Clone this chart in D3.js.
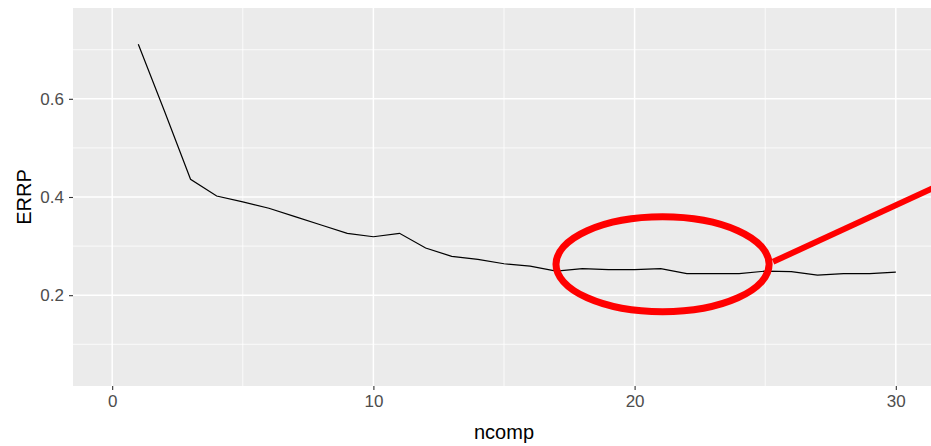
<!DOCTYPE html>
<html>
<head>
<meta charset="utf-8">
<script src="https://cdn.jsdelivr.net/npm/d3@7"></script>
<style>
	body { margin: 0; background: #fff; }
	text { font-family: 'Liberation Sans', Arial, sans-serif; }
</style>
</head>
<body>
<div id="chart"></div>
<script>
// ncomp vs ERRP
const ncomp = [1, 2, 3, 4, 5, 6, 7, 8, 9, 10, 11, 12, 13, 14, 15,
	16, 17, 18, 19, 20, 21, 22, 23, 24, 25, 26, 27, 28, 29, 30];
const errp = [0.711, 0.575, 0.436, 0.402, 0.390, 0.377, 0.360, 0.343, 0.326, 0.319,
	0.326, 0.296, 0.279, 0.273, 0.264, 0.259, 0.249, 0.254, 0.252, 0.252,
	0.254, 0.244, 0.244, 0.244, 0.249, 0.248, 0.241, 0.244, 0.244, 0.247];

const xTicks = [0, 10, 20, 30];
const xMinor = [5, 15, 25];
const yTicks = [0.2, 0.4, 0.6];
const yMinor = [0.1, 0.3, 0.5, 0.7];

// red highlight: ellipse centre / radii and pointer line, in data units
const ringCentre = [21.07, 0.263];
const ringRadii = [4.08, 0.0967];
const pointer = [[25.3, 0.268], [31.7, 0.425]];

const W = 931;
const H = 446;
const panel = {left: 73, top: 8, right: 935, bottom: 386};

const svg = d3
	.select('#chart')
	.append('svg')
	.attr('width', W)
	.attr('height', H);

// limits 0..30 and 0.05..0.75, plus ggplot's 5% expansion
const x = d3.scaleLinear().domain([-1.5, 31.5]).range([panel.left, panel.right]);
const y = d3.scaleLinear().domain([0.015, 0.785]).range([panel.bottom, panel.top]);

svg.append('rect')
	.attr('x', panel.left)
	.attr('y', panel.top)
	.attr('width', panel.right - panel.left)
	.attr('height', panel.bottom - panel.top)
	.attr('fill', '#ebebeb');

const grid = svg.append('g').attr('stroke', '#fff');

grid.selectAll('.ymin')
	.data(yMinor)
	.enter()
	.append('line')
	.attr('x1', panel.left)
	.attr('x2', panel.right)
	.attr('y1', d => y(d))
	.attr('y2', d => y(d))
	.attr('stroke-width', 0.8);

grid.selectAll('.xmin')
	.data(xMinor)
	.enter()
	.append('line')
	.attr('x1', d => x(d))
	.attr('x2', d => x(d))
	.attr('y1', panel.top)
	.attr('y2', panel.bottom)
	.attr('stroke-width', 0.8);

grid.selectAll('.ymaj')
	.data(yTicks)
	.enter()
	.append('line')
	.attr('x1', panel.left)
	.attr('x2', panel.right)
	.attr('y1', d => y(d))
	.attr('y2', d => y(d))
	.attr('stroke-width', 1.5);

grid.selectAll('.xmaj')
	.data(xTicks)
	.enter()
	.append('line')
	.attr('x1', d => x(d))
	.attr('x2', d => x(d))
	.attr('y1', panel.top)
	.attr('y2', panel.bottom)
	.attr('stroke-width', 1.5);

// axes
const xAxis = svg.append('g')
	.attr('transform', `translate(0,${panel.bottom})`)
	.call(d3.axisBottom(x).tickValues(xTicks).tickSize(4).tickPadding(5));

const yAxis = svg.append('g')
	.attr('transform', `translate(${panel.left},0)`)
	.call(d3.axisLeft(y).tickValues(yTicks).tickFormat(d3.format('.1f')).tickSize(4).tickPadding(5));

[xAxis, yAxis].forEach(g => {
	g.select('.domain').remove();
	g.selectAll('.tick line').attr('stroke', '#333').attr('stroke-width', 1.1);
	g.selectAll('.tick text')
		.attr('fill', '#4d4d4d')
		.style('font-size', '17px')
		.style('font-family', "'Liberation Sans', Arial, sans-serif");
});

svg.append('text')
	.attr('x', (panel.left + panel.right) / 2)
	.attr('y', 439)
	.attr('text-anchor', 'middle')
	.style('font-size', '20px')
	.text('ncomp');

svg.append('text')
	.attr('transform', `translate(31,${(panel.top + panel.bottom) / 2}) rotate(-90)`)
	.attr('text-anchor', 'middle')
	.style('font-size', '20px')
	.text('ERRP');

// the data line
const line = d3.line()
	.x(d => x(d[0]))
	.y(d => y(d[1]));

svg.append('path')
	.datum(d3.zip(ncomp, errp))
	.attr('d', line)
	.attr('fill', 'none')
	.attr('stroke', '#000')
	.attr('stroke-width', 1.2);

// red annotation
svg.append('ellipse')
	.attr('cx', x(ringCentre[0]))
	.attr('cy', y(ringCentre[1]))
	.attr('rx', x(ringCentre[0] + ringRadii[0]) - x(ringCentre[0]))
	.attr('ry', y(ringCentre[1]) - y(ringCentre[1] + ringRadii[1]))
	.attr('fill', 'none')
	.attr('stroke', '#ff0000')
	.attr('stroke-width', 7);

svg.append('path')
	.datum(pointer)
	.attr('d', line)
	.attr('stroke', '#ff0000')
	.attr('stroke-width', 6);
</script>
</body>
</html>
